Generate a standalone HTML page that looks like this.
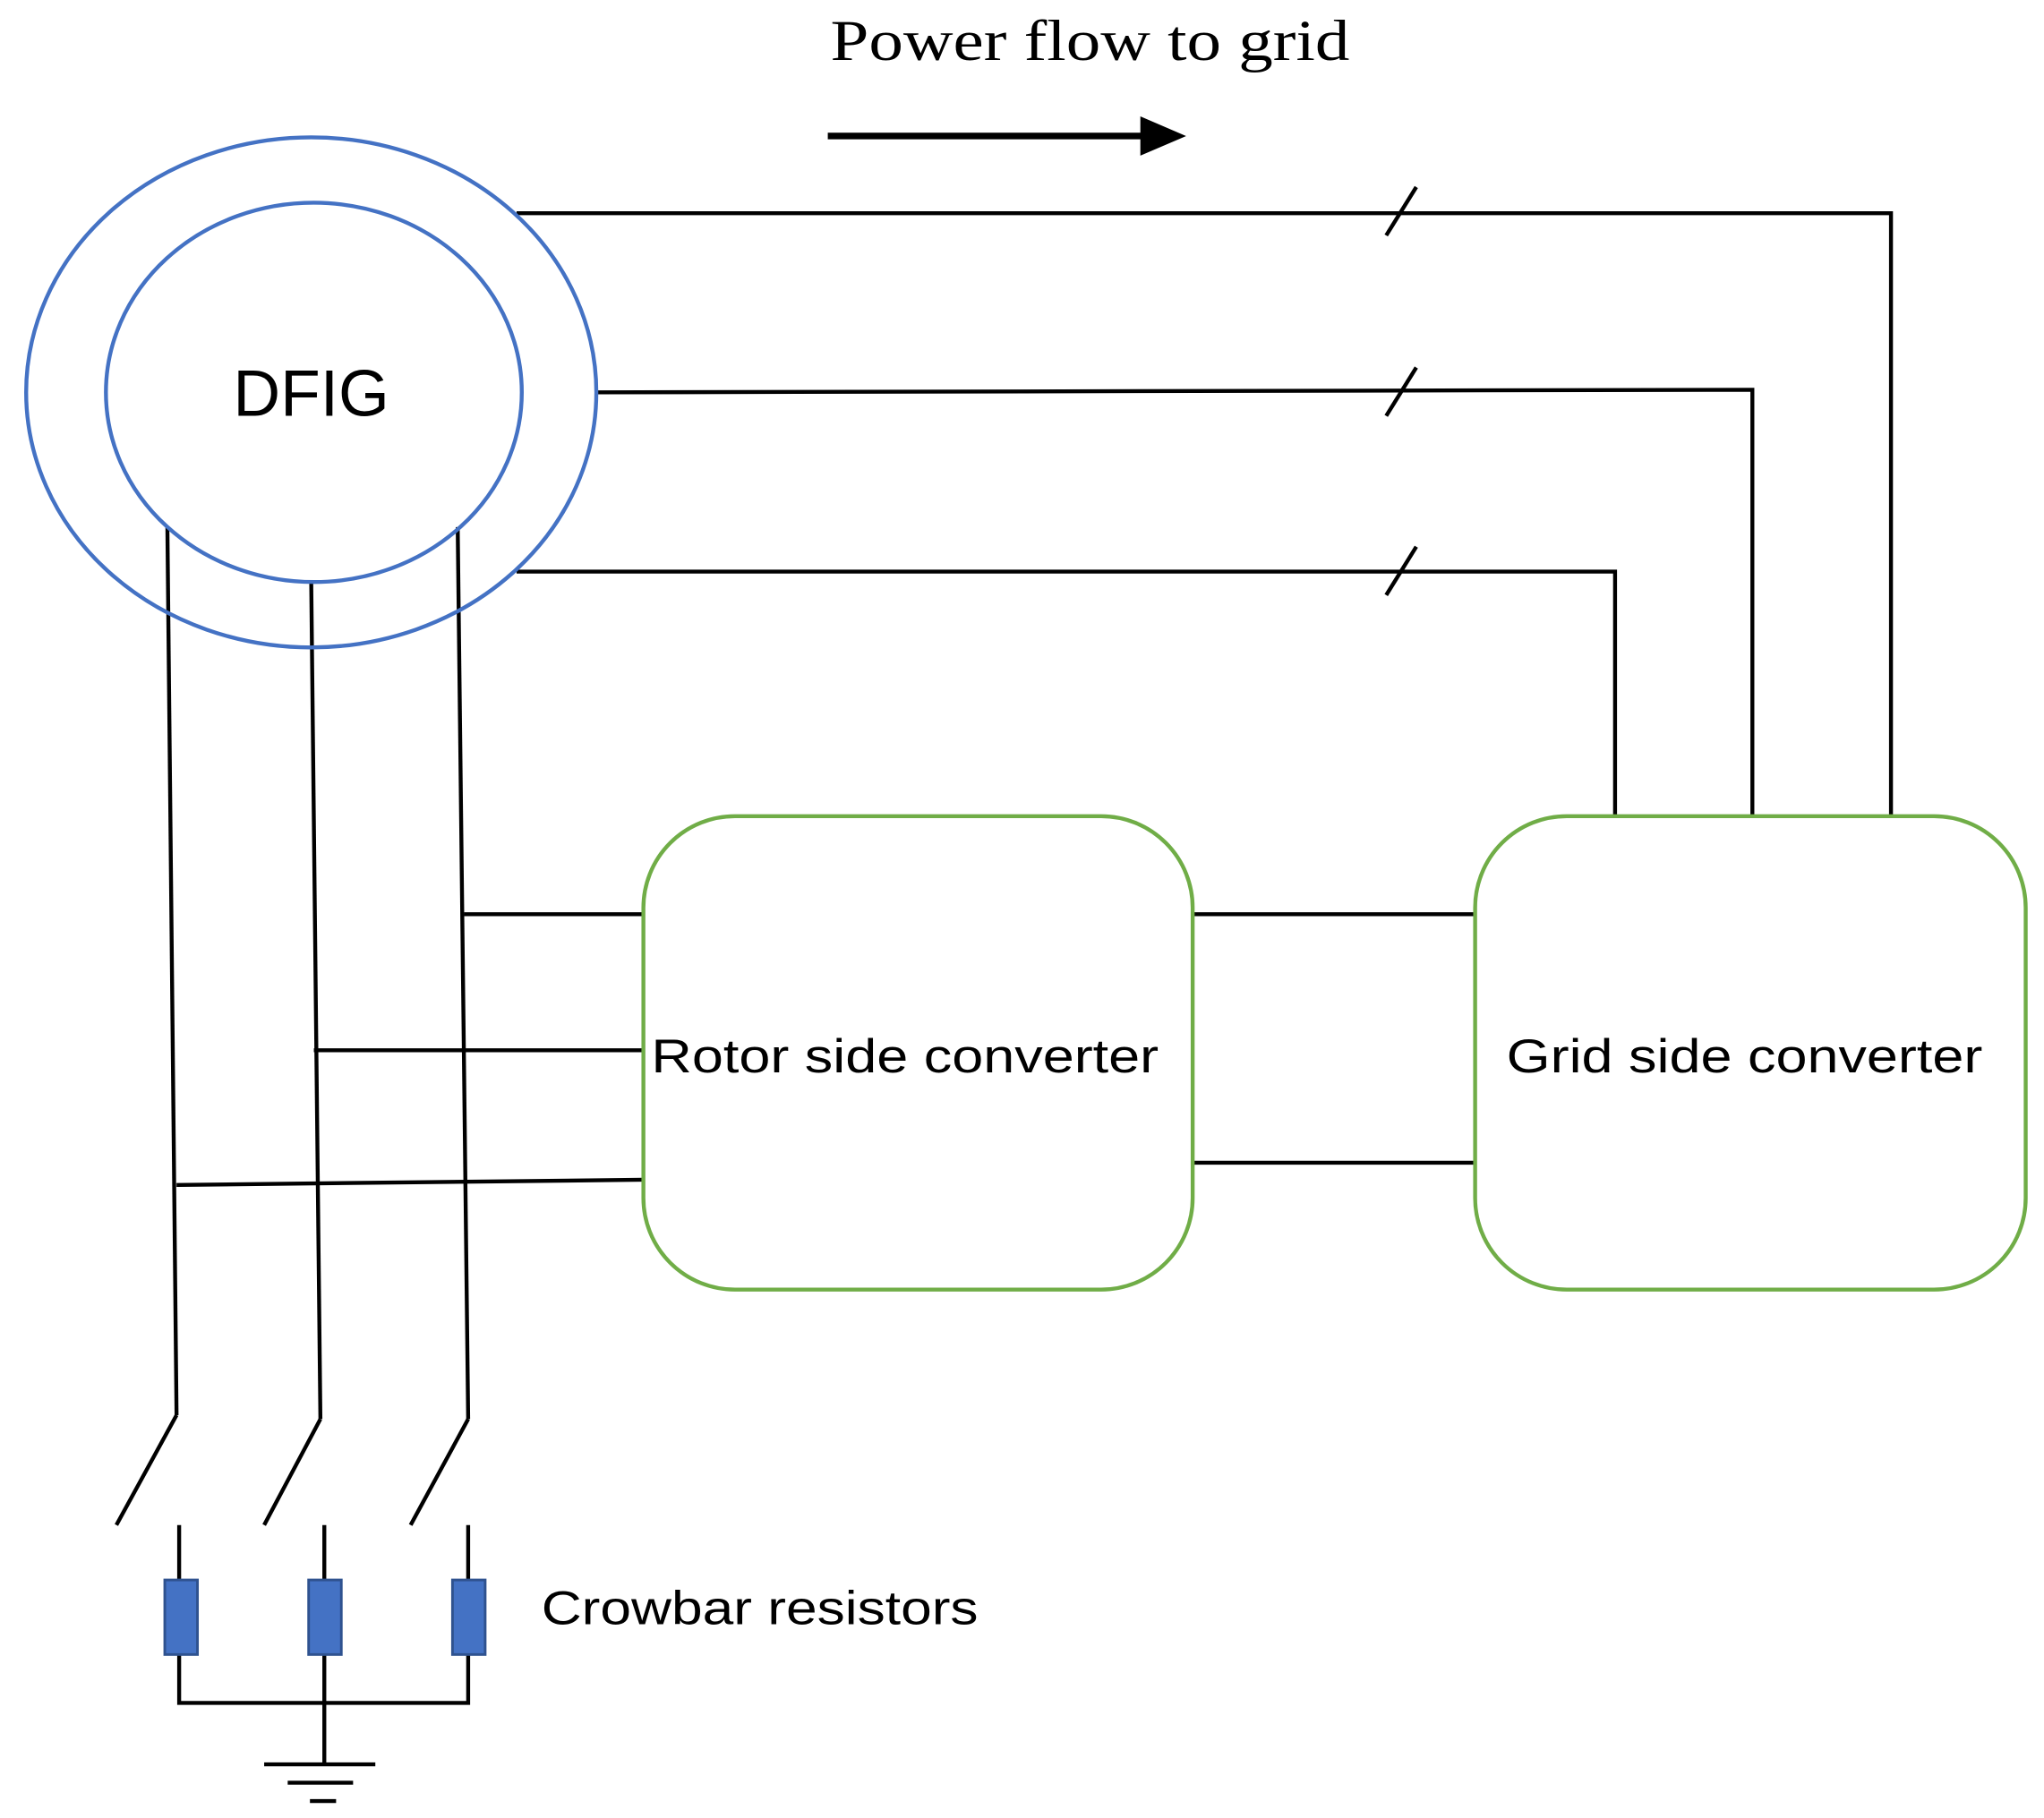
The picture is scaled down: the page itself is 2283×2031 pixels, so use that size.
<!DOCTYPE html>
<html><head><meta charset="utf-8"><style>html,body{margin:0;padding:0;background:#fff}svg{display:block}</style></head>
<body>
<svg width="2283" height="2031" viewBox="0 0 1563 1390" preserveAspectRatio="none" xmlns="http://www.w3.org/2000/svg">
<rect width="1563" height="1390" fill="#fff"/>
<text x="635" y="46" font-family="Liberation Serif, serif" font-size="44" textLength="397" lengthAdjust="spacingAndGlyphs">Power flow to grid</text>
<line x1="633" y1="104" x2="878" y2="104" stroke="#000" stroke-width="5"/>
<polygon points="872,89 907,104 872,119" fill="#000"/>
<g fill="none" stroke="#000" stroke-width="3">
<polyline points="395,163 1446,163 1446,624"/>
<polyline points="456,300 1340,298 1340,624"/>
<polyline points="395,437 1235,437 1235,624"/>
<line x1="1060" y1="180" x2="1083" y2="143"/>
<line x1="1060" y1="318" x2="1083" y2="281"/>
<line x1="1060" y1="455" x2="1083" y2="418"/>
<line x1="912" y1="699" x2="1128" y2="699"/>
<line x1="912" y1="889" x2="1128" y2="889"/>
<line x1="128" y1="403" x2="135" y2="1082"/>
<line x1="238" y1="446" x2="245" y2="1085"/>
<line x1="350" y1="403" x2="358" y2="1085"/>
<line x1="355" y1="699" x2="492" y2="699"/>
<line x1="240" y1="803" x2="492" y2="803"/>
<line x1="135" y1="906" x2="492" y2="902"/>
<line x1="135" y1="1082" x2="89" y2="1166"/>
<line x1="245" y1="1085" x2="202" y2="1166"/>
<line x1="358" y1="1085" x2="314" y2="1166"/>
<line x1="137" y1="1166" x2="137" y2="1208"/>
<line x1="248" y1="1166" x2="248" y2="1208"/>
<line x1="358" y1="1166" x2="358" y2="1208"/>
<polyline points="137,1265 137,1302 358,1302 358,1265"/>
<line x1="248" y1="1265" x2="248" y2="1348"/>
<line x1="202" y1="1349" x2="287" y2="1349"/>
<line x1="220" y1="1363" x2="270" y2="1363"/>
<line x1="237" y1="1377" x2="257" y2="1377"/>
</g>
<g fill="#4472c4" stroke="#2f528f" stroke-width="2">
<rect x="126" y="1208" width="25" height="57"/>
<rect x="236" y="1208" width="25" height="57"/>
<rect x="346" y="1208" width="25" height="57"/>
</g>
<ellipse cx="238" cy="300" rx="218" ry="195" fill="none" stroke="#4472c4" stroke-width="3"/>
<ellipse cx="240" cy="300" rx="159" ry="145" fill="none" stroke="#4472c4" stroke-width="3"/>
<text x="238" y="318" text-anchor="middle" font-family="Liberation Sans, sans-serif" font-size="50">DFIG</text>
<rect x="492" y="624" width="420" height="362" rx="70" ry="70" fill="none" stroke="#70ad47" stroke-width="3"/>
<rect x="1128" y="624" width="421" height="362" rx="70" ry="70" fill="none" stroke="#70ad47" stroke-width="3"/>
<text x="498" y="820" font-family="Liberation Sans, sans-serif" font-size="36" textLength="388" lengthAdjust="spacingAndGlyphs">Rotor side converter</text>
<text x="1152" y="820" font-family="Liberation Sans, sans-serif" font-size="36" textLength="364" lengthAdjust="spacingAndGlyphs">Grid side converter</text>
<text x="414" y="1242" font-family="Liberation Sans, sans-serif" font-size="36" textLength="334" lengthAdjust="spacingAndGlyphs">Crowbar resistors</text>
</svg>
</body></html>
